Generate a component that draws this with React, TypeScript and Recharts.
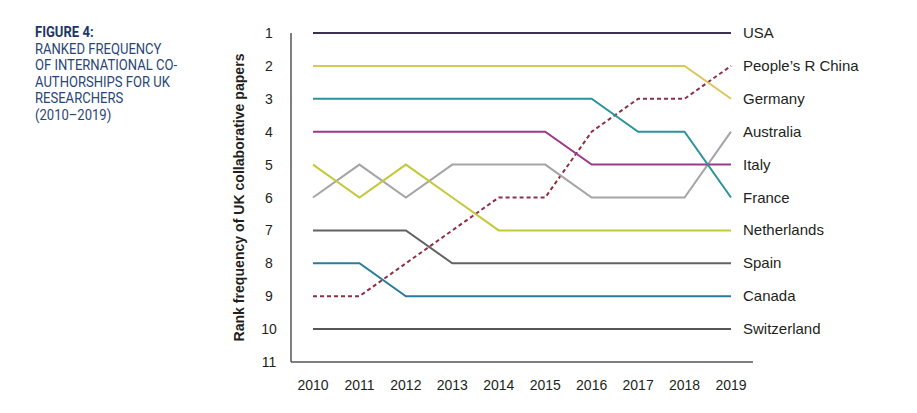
import React from 'react';
import { LineChart, Line, XAxis, YAxis, LabelList } from 'recharts';

const years = ['2010', '2011', '2012', '2013', '2014', '2015', '2016', '2017', '2018', '2019'];
const rankTicks = [1, 2, 3, 4, 5, 6, 7, 8, 9, 10, 11];

const usa = [1, 1, 1, 1, 1, 1, 1, 1, 1, 1];
const china = [9, 9, 8, 7, 6, 6, 4, 3, 3, 2];
const germany = [2, 2, 2, 2, 2, 2, 2, 2, 2, 3];
const australia = [6, 5, 6, 5, 5, 5, 6, 6, 6, 4];
const italy = [4, 4, 4, 4, 4, 4, 5, 5, 5, 5];
const france = [3, 3, 3, 3, 3, 3, 3, 4, 4, 6];
const netherlands = [5, 6, 5, 6, 7, 7, 7, 7, 7, 7];
const spain = [7, 7, 7, 8, 8, 8, 8, 8, 8, 8];
const canada = [8, 8, 9, 9, 9, 9, 9, 9, 9, 9];
const switzerland = [10, 10, 10, 10, 10, 10, 10, 10, 10, 10];

const titleLines = ['RANKED FREQUENCY', 'OF INTERNATIONAL CO-', 'AUTHORSHIPS FOR UK', 'RESEARCHERS', '(2010–2019)'];

const series = [
  { key: 'usa', name: 'USA', values: usa, color: '#3d3152' },
  { key: 'china', name: 'People’s R China', values: china, color: '#8e2f45', dash: '4 3' },
  { key: 'germany', name: 'Germany', values: germany, color: '#dcc65c' },
  { key: 'australia', name: 'Australia', values: australia, color: '#a5a5a7' },
  { key: 'italy', name: 'Italy', values: italy, color: '#9a3a8a' },
  { key: 'france', name: 'France', values: france, color: '#2b939c' },
  { key: 'netherlands', name: 'Netherlands', values: netherlands, color: '#c4c83a' },
  { key: 'spain', name: 'Spain', values: spain, color: '#626264' },
  { key: 'canada', name: 'Canada', values: canada, color: '#2a7c9c' },
  { key: 'switzerland', name: 'Switzerland', values: switzerland, color: '#575759' },
];

const data = years.map((year, i) => {
  const row: any = { year };
  series.forEach(s => { row[s.key] = s.values[i]; });
  return row;
});

const FONT = '"Liberation Sans", Arial, sans-serif';
const TEXT = '#231f20';

const XTick = (props: any) => {
  const { x, y, payload } = props;
  return (
    <text x={x} y={y} dy={26} textAnchor="middle" fill={TEXT} fontSize={14} fontFamily={FONT}>
      {payload.value}
    </text>
  );
};

const YTick = (props: any) => {
  const { x, y, payload } = props;
  return (
    <text x={x} y={y} dy={5} textAnchor="middle" fill={TEXT} fontSize={14} fontFamily={FONT}>
      {payload.value}
    </text>
  );
};

const YLabel = (props: any) => {
  const { viewBox } = props;
  const cx = viewBox.x + 16;
  const cy = viewBox.y + viewBox.height / 2;
  return (
    <text
      x={cx}
      y={cy}
      transform={`rotate(-90, ${cx}, ${cy})`}
      textAnchor="middle"
      dominantBaseline="central"
      fill={TEXT}
      fontSize={15}
      fontWeight="bold"
      fontFamily={FONT}
      textLength={288}
      lengthAdjust="spacingAndGlyphs"
    >
      Rank frequency of UK collaborative papers
    </text>
  );
};

const endLabel = (name: string) => (props: any) => {
  const { x, y, index } = props;
  if (index !== years.length - 1) return null;
  return (
    <text x={x + 12} y={y} dy={5} fill={TEXT} fontSize={15} fontFamily={FONT}>
      {name}
    </text>
  );
};

export default function App() {
  return (
    <div style={{ position: 'absolute', left: 0, top: 0, width: 917, height: 413, background: '#fff' }}>
      <div
        style={{
          position: 'absolute', left: 35, top: 24, fontFamily: 'Roboto, sans-serif', lineHeight: '16.5px',
          fontSize: 15, color: '#2a4676', transform: 'scaleX(0.87)', transformOrigin: 'left top', whiteSpace: 'nowrap',
        }}
      >
        <div style={{ fontWeight: 'bold', color: '#1c3766' }}>FIGURE 4:</div>
        {titleLines.map(t => <div key={t}>{t}</div>)}
      </div>
      <LineChart width={917} height={413} data={data} margin={{ top: 33, right: 164, bottom: 0, left: 222 }}>
        <XAxis
          dataKey="year"
          type="category"
          padding={{ left: 22, right: 22 }}
          tickLine={false}
          tickSize={0}
          tick={<XTick />}
          stroke="#555"
          strokeWidth={1.5}
          height={51}
        />
        <YAxis
          type="number"
          domain={[1, 11]}
          ticks={rankTicks}
          reversed
          interval={0}
          tickLine={false}
          tickSize={0}
          tickMargin={22}
          tick={<YTick />}
          stroke="#555"
          strokeWidth={1.5}
          width={69}
          label={<YLabel />}
        />
        {series.map(s => (
          <Line
            key={s.key}
            dataKey={s.key}
            stroke={s.color}
            strokeWidth={2}
            strokeDasharray={s.dash}
            dot={false}
            activeDot={false}
            isAnimationActive={false}
          >
            <LabelList dataKey={s.key} content={endLabel(s.name)} />
          </Line>
        ))}
      </LineChart>
    </div>
  );
}
